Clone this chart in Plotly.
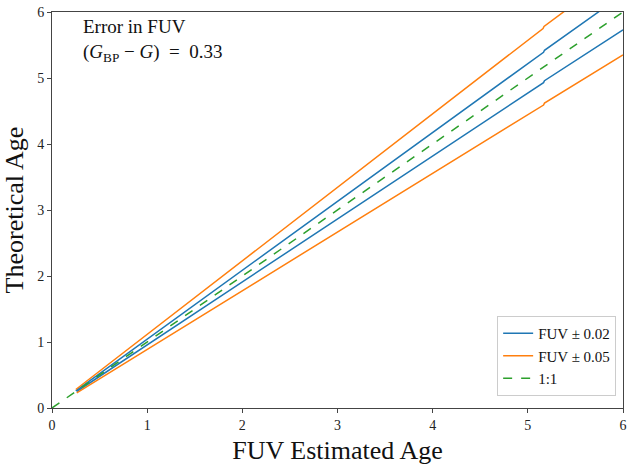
import plotly.graph_objects as go

# Data (estimated age x, theoretical age y)
blue_hi_x = [0.25, 5.165, 5.175, 5.79]
blue_hi_y = [0.26, 5.39, 5.42, 6.05]
blue_lo_x = [0.26, 5.165, 5.175, 6.0]
blue_lo_y = [0.25, 4.93, 4.96, 5.73]
orange_hi_x = [0.25, 5.16, 5.17, 5.43]
orange_hi_y = [0.28, 5.75, 5.78, 6.06]
orange_lo_x = [0.26, 5.165, 5.175, 6.0]
orange_lo_y = [0.23, 4.59, 4.62, 5.35]
one_x = [0, 6]
one_y = [0, 6]

BLUE = "#1f77b4"
ORANGE = "#ff7f0e"
GREEN = "#2ca02c"
FONT = "Liberation Serif"

fig = go.Figure()
fig.add_trace(go.Scatter(x=blue_hi_x, y=blue_hi_y, mode="lines", line=dict(color=BLUE, width=1.5),
                         name="FUV ± 0.02", legendgroup="b"))
fig.add_trace(go.Scatter(x=blue_lo_x, y=blue_lo_y, mode="lines", line=dict(color=BLUE, width=1.5),
                         name="FUV ± 0.02", legendgroup="b", showlegend=False))
fig.add_trace(go.Scatter(x=orange_hi_x, y=orange_hi_y, mode="lines", line=dict(color=ORANGE, width=1.5),
                         name="FUV ± 0.05", legendgroup="o"))
fig.add_trace(go.Scatter(x=orange_lo_x, y=orange_lo_y, mode="lines", line=dict(color=ORANGE, width=1.5),
                         name="FUV ± 0.05", legendgroup="o", showlegend=False))
fig.add_trace(go.Scatter(x=one_x, y=one_y, mode="lines", line=dict(color=GREEN, width=1.5, dash="dash"),
                         name="1:1"))

axis_common = dict(
    showgrid=False, zeroline=False, showline=True, linecolor="#444", linewidth=1,
    mirror=True, ticks="outside", ticklen=4, tickcolor="#444",
    tickfont=dict(family=FONT, size=14, color="#222"),
    dtick=1,
)
fig.update_xaxes(range=[0, 6], title=dict(text="FUV Estimated Age", font=dict(family=FONT, size=26, color="#111"), standoff=11),
                 **axis_common)
fig.update_yaxes(range=[0, 6], title=dict(text="Theoretical Age", font=dict(family=FONT, size=26, color="#111"), standoff=8),
                 **axis_common)

fig.add_annotation(x=0.05, y=0.995, xref="paper", yref="paper", xanchor="left", yanchor="top",
                   align="left", showarrow=False,
                   text="Error in FUV<br>(<i>G</i><sub>BP</sub> − <i>G</i>)  =  0.33",
                   font=dict(family=FONT, size=19, color="#111"))

fig.update_layout(
    width=630, height=465,
    margin=dict(l=52, r=3, t=12, b=52),
    plot_bgcolor="white", paper_bgcolor="white",
    font=dict(family=FONT),
    legend=dict(x=0.988, y=0.03, xanchor="right", yanchor="bottom",
                bgcolor="rgba(255,255,255,0.9)", bordercolor="#ccc", borderwidth=1,
                font=dict(family=FONT, size=15, color="#111"), tracegroupgap=0, itemwidth=30),
)

fig.write_html("out.html")
